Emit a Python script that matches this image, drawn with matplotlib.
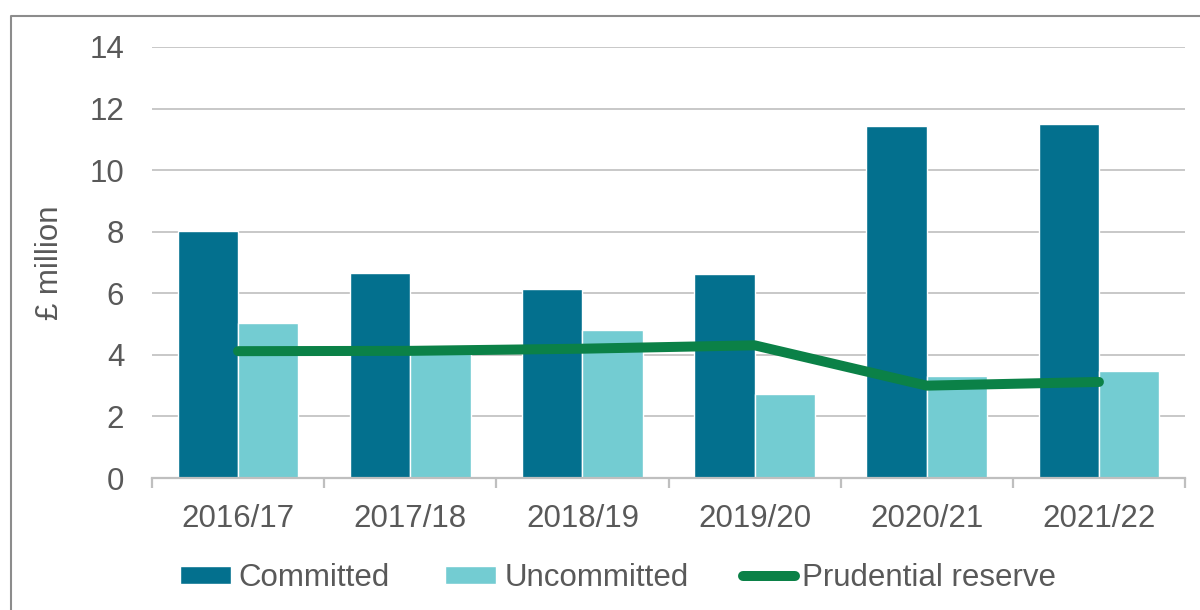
import matplotlib
matplotlib.use("Agg")
import matplotlib.pyplot as plt
from matplotlib.lines import Line2D
import numpy as np

categories = ["2016/17", "2017/18", "2018/19", "2019/20", "2020/21", "2021/22"]
committed = [8.03, 6.65, 6.13, 6.62, 11.43, 11.50]
uncommitted = [5.03, 4.1, 4.8, 2.73, 3.31, 3.46]
prudential = [4.12, 4.13, 4.2, 4.31, 3.0, 3.12]
yticks = [0, 2, 4, 6, 8, 10, 12, 14]

C_COM = "#03708E"
C_UNC = "#73CCD2"
C_LINE = "#0B8147"
TXT = "#595959"
FS = 22.5

plt.rcParams['font.family'] = ['Liberation Sans', 'DejaVu Sans']

fig = plt.figure(figsize=(12, 6.1), dpi=100)
W, H = 1200, 610
ax = fig.add_axes([152 / W, 1 - 478 / H, (1185 - 152) / W, (478 - 47) / H])

x = np.arange(len(categories))
bw = 0.35
b1 = ax.bar(x - bw / 2, committed, width=bw, color=C_COM, edgecolor="white", linewidth=1.0,
            label="Committed", zorder=2)
b2 = ax.bar(x + bw / 2, uncommitted, width=bw, color=C_UNC, edgecolor="white", linewidth=1.0,
            label="Uncommitted", zorder=2)
l1, = ax.plot(x, prudential, color=C_LINE, linewidth=7.2, solid_capstyle="round",
              solid_joinstyle="round", label="Prudential reserve", zorder=3)

ax.set_xlim(-0.5, len(categories) - 0.5)
ax.set_ylim(0, 14)
ax.set_yticks(yticks)
ax.set_yticklabels([str(v) for v in yticks])
ax.set_xticks(x)
ax.set_xticklabels(categories)
ax.set_xticks(np.arange(-0.5, len(categories), 1.0), minor=True)

ax.grid(axis="y", color="#C8C8C8", linewidth=1.4, zorder=0)
ax.set_axisbelow(True)
for s in ["top", "right", "left"]:
    ax.spines[s].set_visible(False)
ax.spines["bottom"].set_color("#BFBFBF")
ax.spines["bottom"].set_linewidth(1.6)
ax.spines["bottom"].set_zorder(4)

ax.tick_params(axis="y", length=0, pad=20, labelsize=FS, labelcolor=TXT)
ax.tick_params(axis="x", which="major", length=0, pad=19, labelsize=FS, labelcolor=TXT)
ax.tick_params(axis="x", which="minor", length=7, width=1.6, color="#BFBFBF", direction="out")

ax.set_ylabel("£ million", fontsize=FS, color=TXT)
ax.yaxis.set_label_coords(-0.084, 0.5)

leg = fig.legend([b1, b2, l1], ["Committed", "Uncommitted", "Prudential reserve"],
                 loc="center", bbox_to_anchor=(618 / W, 1 - 578 / H), ncol=3, frameon=False,
                 fontsize=FS, labelcolor=TXT, handlelength=1.65, handleheight=0.5,
                 handletextpad=0.25, columnspacing=1.75)

# chart border (left and top visible)
fig.add_artist(Line2D([11 / W, 11 / W, 1.0], [0.0, 1 - 16 / H, 1 - 16 / H],
                      transform=fig.transFigure, color="#8C8C8C", linewidth=1.5))

fig.savefig("out.png", dpi=100)
